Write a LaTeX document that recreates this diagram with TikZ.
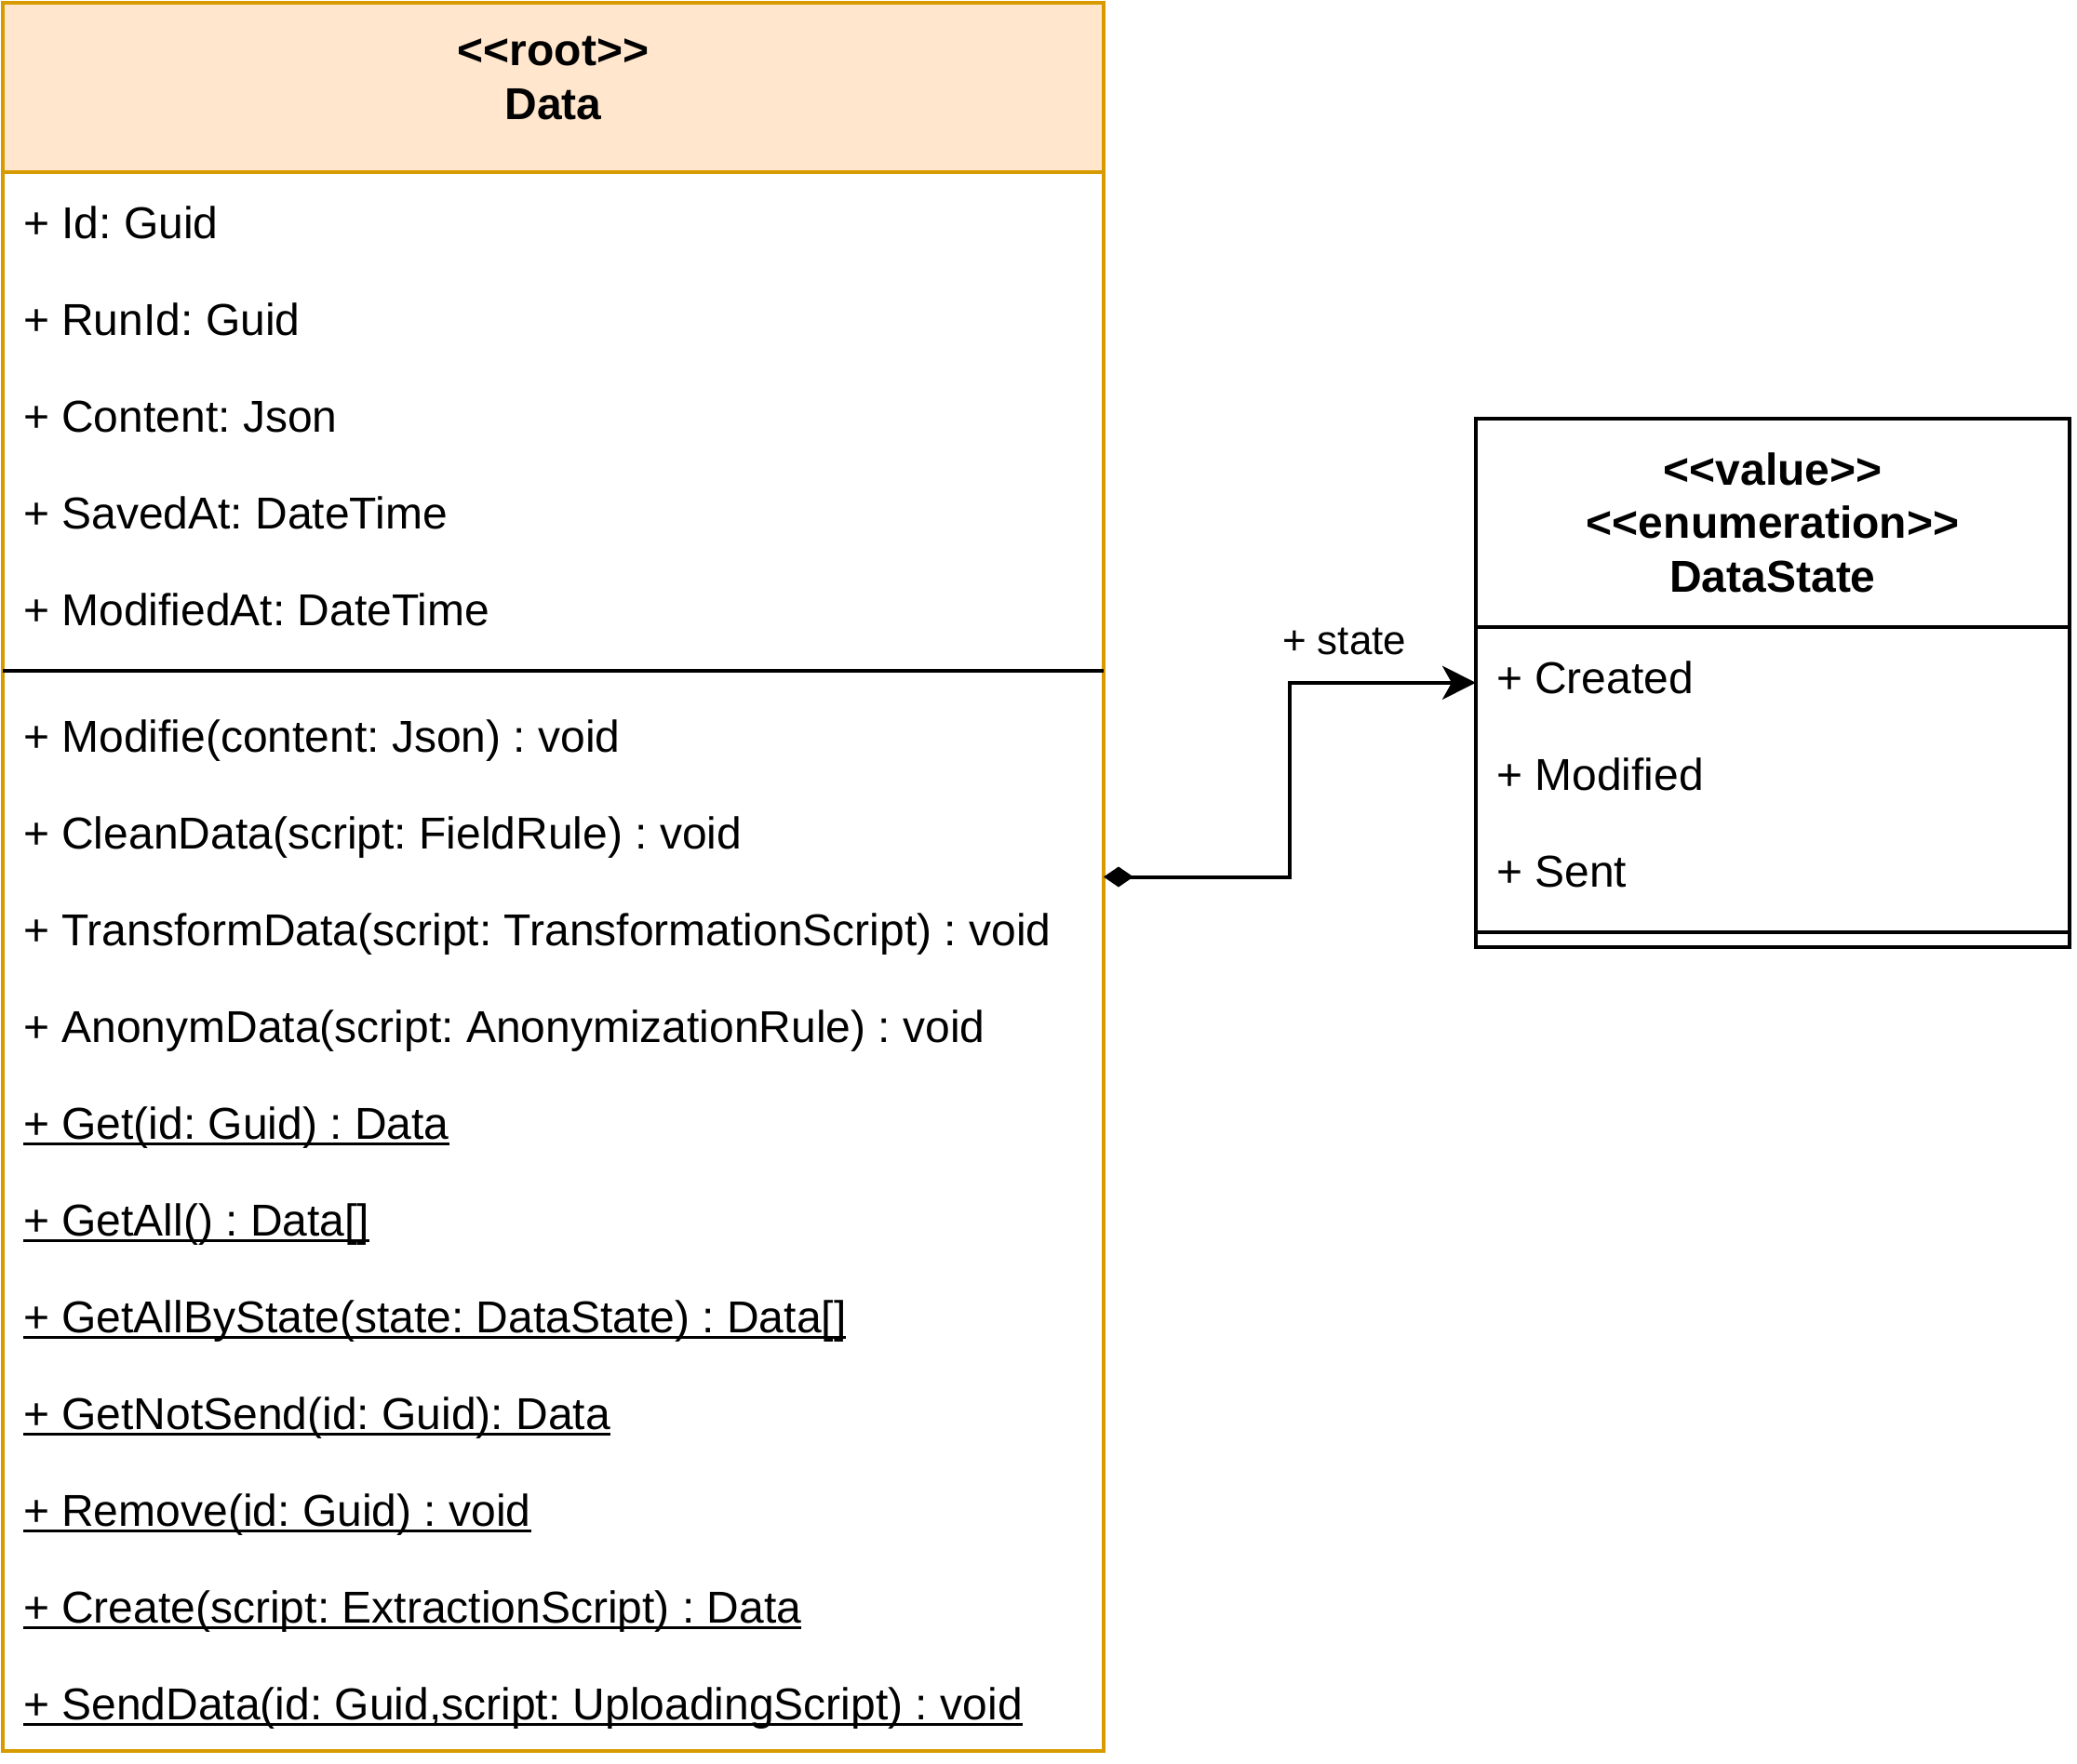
\documentclass[tikz,border=0pt]{standalone}
\usepackage{fontspec}
\setmainfont{Liberation Sans}
\usetikzlibrary{arrows.meta}

\definecolor{rootfill}{HTML}{FFE6CC}
\definecolor{rootline}{HTML}{D79B00}
\frenchspacing
\newlength{\ulwidth}
\newcommand{\ultext}[1]{\settowidth{\ulwidth}{#1}\rlap{\rule[-1.8pt]{\ulwidth}{0.8pt}}#1}
% stereotype brackets written as plain < and > (no guillemet mapping)
\newcommand{\stereo}[1]{<\kern0pt<#1>\kern0pt>}

\begin{document}
\begin{tikzpicture}[x=1pt, y=-1pt, line width=1pt,
    member/.style={anchor=base west, inner xsep=5.5pt, inner ysep=0pt, outer sep=0pt,
        text height=8.6pt, text depth=3pt, font=\fontsize{12}{14.4}\selectfont},
    title/.style={anchor=base, inner sep=0pt, font=\fontsize{12}{14.4}\selectfont\bfseries}]
                    \useasboundingbox (0,0) rectangle (558,474);
                    % Row height of one member
                    \pgfmathsetmacro{\rowh}{26}

                    % Class Data (root)
                    \fill[rootfill] (0.75,0.75) rectangle (296.5,46.25);
                    \node[draw=rootline, minimum width=295.75pt, minimum height=469.75pt,
                        inner sep=0pt, outer sep=0pt] (data) at (148.625,235.625) {};
                    \draw[rootline] (0.75,46.25) -- (296.5,46.25);
                    \draw[black] (0.75,180.25) -- (296.5,180.25);
                    \node[title] (rootstereo) at (148.625,17.6) {\stereo{root}};
                    \node[title] (dataname) at (148.625,32) {Data};

                    % Attributes
                    \foreach \txt [count=\i from 0] in {{+ Id: Guid}, {+ RunId: Guid},
                        {+ Content: Json}, {+ SavedAt: DateTime}, {+ ModifiedAt: DateTime}} {
                        \node[member] (attr\i) at (0.75,64+\i*\rowh) {\txt};
                    }

                    % Operations
                    \foreach \txt [count=\i from 0] in {{+ Modifie(content: Json) : void},
                        {+ CleanData(script: FieldRule) : void},
                        {+ TransformData(script: TransformationScript) : void},
                        {+ AnonymData(script: AnonymizationRule) : void}} {
                        \node[member] (meth\i) at (0.75,202+\i*\rowh) {\txt};
                    }

                    % Static operations (underlined)
                    \foreach \txt [count=\i from 4] in {{+ Get(id: Guid) : Data},
                        {+ GetAll() : Data[]},
                        {+ GetAllByState(state: DataState) : Data[]},
                        {+ GetNotSend(id: Guid): Data},
                        {+ Remove(id: Guid) : void},
                        {+ Create(script: ExtractionScript) : Data},
                        {+ SendData(id: Guid,script: UploadingScript) : void}} {
                        \node[member] (meth\i) at (0.75,202+\i*\rowh) {\ultext{\txt}};
                    }

                    % Enumeration DataState
                    \node[draw, minimum width=159.5pt, minimum height=142pt,
                        inner sep=0pt, outer sep=0pt] (datastate) at (476.25,183.5) {};
                    \draw (396.5,168.5) -- (556,168.5);
                    \draw (396.5,250.5) -- (556,250.5);
                    \node[title] (valuestereo) at (476.25,130.3) {\stereo{value}};
                    \node[title] (enumstereo) at (476.25,144.7) {\stereo{enumeration}};
                    \node[title] (statename) at (476.25,159.1) {DataState};

                    \node[member] (created) at (396.5,186.25) {+ Created};
                    \node[member] (modified) at (396.5,212.25) {+ Modified};
                    \node[member] (sent) at (396.5,238.25) {+ Sent};

                    % Composition Data -> DataState
                    \draw[{Diamond[length=8pt,width=5.5pt]}-{Stealth[length=9pt,width=9pt,inset=2.5pt]}]
                        (data.east) -- ++(50,0) |- (created.west);
                    \node[anchor=base west, inner sep=0pt, font=\fontsize{11}{13}\selectfont]
                        (statelabel) at (344,175.9) {+ state};
                \end{tikzpicture}
\end{document}
